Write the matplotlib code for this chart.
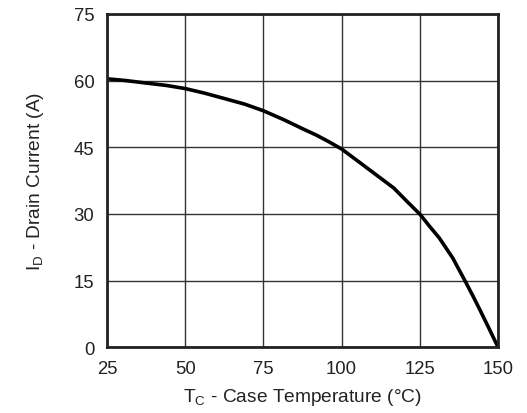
import matplotlib
matplotlib.use('Agg')
from matplotlib import pyplot as plt

# Data
temp = [25, 31, 38, 44, 50, 56, 62.3, 69, 75, 81.5, 88, 92, 96, 100,
        106.1, 111.4, 116.7, 120.9, 125.2, 128, 131.2, 133.3, 135.5,
        139.7, 142, 144.0, 147, 150]
current = [60.4, 60.0, 59.4, 58.9, 58.2, 57.2, 56.0, 54.7, 53.2, 51.2, 49.0,
           47.7, 46.2, 44.6, 41.4, 38.6, 35.8, 32.8, 29.8, 27.3, 24.6, 22.4,
           20.1, 14.6, 11.5, 8.7, 4.4, 0.0]
x_ticks = [25, 50, 75, 100, 125, 150]
y_ticks = [0, 15, 30, 45, 60, 75]

plt.rcParams['font.family'] = ['Liberation Sans', 'DejaVu Sans']
plt.rcParams['mathtext.fontset'] = 'custom'
plt.rcParams['mathtext.rm'] = 'Liberation Sans'

fig = plt.figure(figsize=(5.27, 4.14), dpi=100)
ax = fig.add_axes([0.203, 0.159, 0.742, 0.805])

ax.plot(temp, current, color='black', linewidth=2.6,
        solid_capstyle='round', solid_joinstyle='round')

ax.set_xlim(25, 150)
ax.set_ylim(0, 75)
ax.set_xticks(x_ticks)
ax.set_yticks(y_ticks)
ax.grid(True, color='#333333', linewidth=1.0)
ax.set_axisbelow(True)
ax.tick_params(length=0, labelsize=13.3, colors='#222222', pad=9)

for s in ax.spines.values():
    s.set_linewidth(2)
    s.set_color('#222222')

ax.set_xlabel(r'T$_{\mathrm{C}}$ - Case Temperature (°C)', fontsize=13.8, color='#222222', labelpad=7)
ax.set_ylabel(r'I$_{\mathrm{D}}$ - Drain Current (A)', fontsize=13.8, color='#222222', labelpad=20)

plt.savefig('out.png', dpi=100)
plt.close()
